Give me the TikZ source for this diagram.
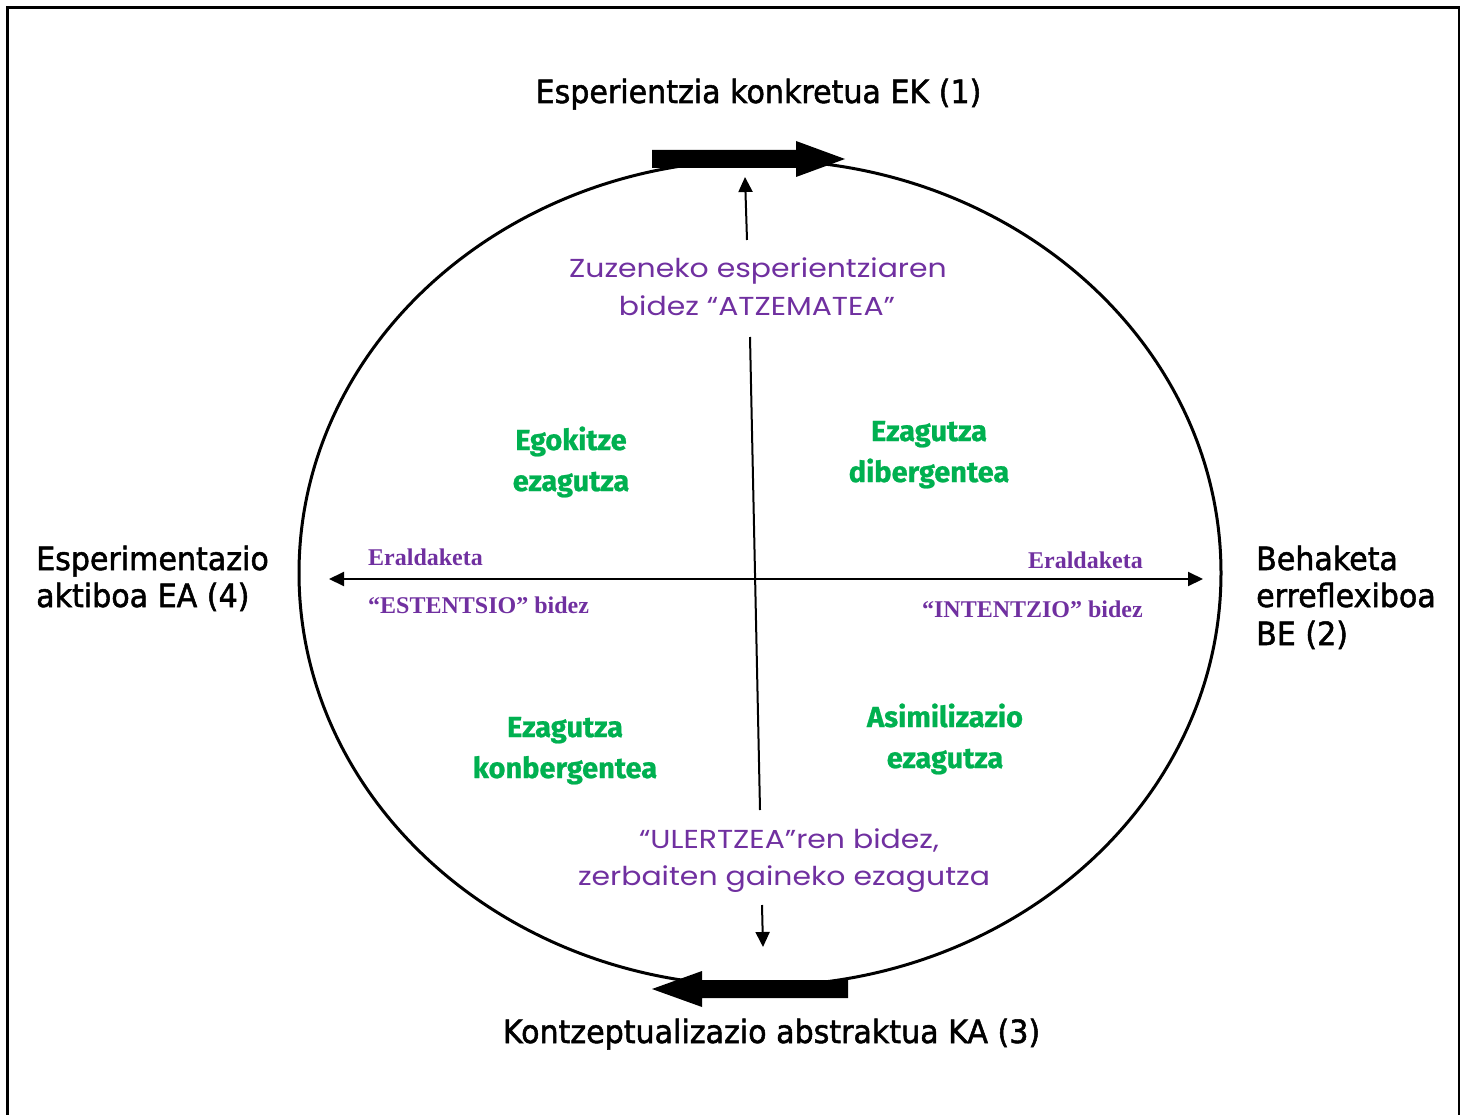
\documentclass[tikz,border=0pt]{standalone}
\usepackage{fontspec}
\usetikzlibrary{arrows.meta,shapes.geometric}
\newfontfamily\polefont[FakeStretch=0.94,FakeBold=1.6]{DejaVu Sans}
\newfontfamily\notefont[FakeStretch=1.15]{Poppins}
\newfontfamily\kindfont[FakeBold=0.8]{Fira Sans}
\newfontfamily\transfont{Liberation Serif}
\definecolor{notepurple}{HTML}{7030A0}
\definecolor{kindgreen}{HTML}{00B050}
\tikzset{
  pole/.style={anchor=base west, inner sep=0pt, font=\polefont\fontsize{32}{38}\selectfont},
  polec/.style={pole, anchor=base},
  note/.style={anchor=base, inner sep=0pt, text=notepurple, font=\notefont\fontsize{26}{30}\selectfont},
  kind/.style={anchor=base, inner sep=0pt, text=kindgreen, font=\kindfont\bfseries\fontsize{29}{34}\selectfont},
  trans/.style={inner sep=0pt, text=notepurple, font=\transfont\bfseries\fontsize{24}{28}\selectfont},
  pointer/.style={line width=2pt, -{Triangle[length=15pt,width=14pt]}},
  bigarrow/.style={fill=black}
}
\begin{document}
\begin{tikzpicture}[x=1pt,y=-1pt]
\useasboundingbox (0,0) rectangle (1469,1115);
\clip (0,0) rectangle (1469,1115);
% outer frame
\draw[line width=2.5pt] (7.5,7.5) rectangle (1459,1140);

% learning cycle
\node[draw, ellipse, line width=3pt, inner sep=0pt, minimum width=922pt, minimum height=826pt] (cycle) at (760,573) {};

% heavy direction arrows on the cycle
\fill[bigarrow] (652,150) -- (796,150) -- (796,141) -- (845,159) -- (796,177) -- (796,168) -- (652,168) -- cycle;
\fill[bigarrow] (848,980) -- (702,980) -- (702,971) -- (652,989) -- (702,1007) -- (702,998) -- (848,998) -- cycle;

% poles of the cycle
\node[polec] (ek) at (758.5,103) {Esperientzia konkretua EK (1)};
\node[polec] (ka) at (771.5,1043) {Kontzeptualizazio abstraktua KA (3)};
\node[pole] (ea1) at (36,570) {Esperimentazio};
\node[pole] (ea2) at (36,607) {aktiboa EA (4)};
\node[pole] (be1) at (1256,570) {Behaketa};
\node[pole] (be2) at (1256,607) {erreflexiboa};
\node[pole] (be3) at (1256,645) {BE (2)};

% vertical axis
\coordinate (upfrom) at (747,240);
\coordinate (upto) at (745,177);
\draw[pointer] (upfrom) -- (upto);
\coordinate (vtop) at (750,337);
\coordinate (vbot) at (760,810);
\draw[line width=2pt] (vtop) -- (vbot);
\coordinate (downfrom) at (762,905);
\coordinate (downto) at (763,947);
\draw[pointer] (downfrom) -- (downto);

% horizontal axis
\coordinate (hleft) at (329,579);
\coordinate (hright) at (1203,579);
\draw[line width=2pt, {Triangle[length=15pt,width=14pt]}-{Triangle[length=15pt,width=14pt]}] (hleft) -- (hright);

% axis notes
\node[note] (at1) at (758,278) {Zuzeneko esperientziaren};
\node[note] (at2) at (757,315) {bidez “ATZEMATEA”};
\node[note] (ul1) at (789,848) {“ULERTZEA”ren bidez,};
\node[note] (ul2) at (784,885) {zerbaiten gaineko ezagutza};

\node[trans, anchor=base west] (er1) at (368,565) {Eraldaketa};
\node[trans, anchor=base west] (es1) at (368,613) {“ESTENTSIO” bidez};
\node[trans, anchor=base east] (er2) at (1143,568) {Eraldaketa};
\node[trans, anchor=base east] (in2) at (1143,617) {“INTENTZIO” bidez};

% kinds of knowledge
\node[kind] (eg1) at (571,450) {Egokitze};
\node[kind] (eg2) at (571,491) {ezagutza};
\node[kind] (di1) at (929,441) {Ezagutza};
\node[kind] (di2) at (929,482) {dibergentea};
\node[kind] (ko1) at (565,737) {Ezagutza};
\node[kind] (ko2) at (565,778) {konbergentea};
\node[kind] (as1) at (945,727) {Asimilizazio};
\node[kind] (as2) at (945,768) {ezagutza};
\end{tikzpicture}
\end{document}
